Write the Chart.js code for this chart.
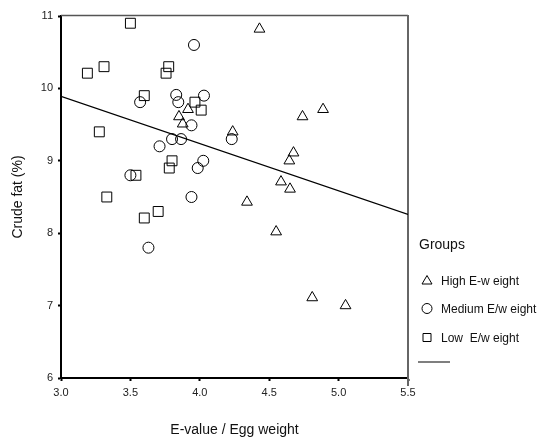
<!DOCTYPE html>
<html>
<head>
<meta charset="utf-8">
<script src="https://cdn.jsdelivr.net/npm/chart.js@4.4.1/dist/chart.umd.min.js"></script>
<style>
  html, body { margin: 0; padding: 0; background: #fff; }
  #wrap { width: 540px; height: 442px; }
</style>
</head>
<body>
<div id="wrap"><canvas id="chart" width="540" height="442"></canvas></div>
<script>
// points: [E-value / egg weight, crude fat %]
const highX = [4.43, 3.915, 3.85, 3.877, 4.237, 4.34, 4.888, 4.74, 4.675, 4.645, 4.585, 4.65, 4.55, 4.81, 5.05];
const highY = [10.82, 9.71, 9.61, 9.51, 9.40, 8.43, 9.71, 9.61, 9.11, 9.00, 8.71, 8.61, 8.02, 7.11, 7.00];

const mediumX = [3.958, 3.57, 3.83, 3.845, 4.03, 3.94, 3.80, 3.865, 3.71, 4.025, 3.985, 3.50, 3.94, 4.23, 3.63];
const mediumY = [10.60, 9.81, 9.91, 9.81, 9.90, 9.49, 9.30, 9.30, 9.20, 9.00, 8.90, 8.80, 8.50, 9.30, 7.80];

const lowX = [3.50, 3.19, 3.31, 3.776, 3.757, 3.60, 3.965, 4.01, 3.276, 3.80, 3.78, 3.54, 3.33, 3.60, 3.70];
const lowY = [10.90, 10.21, 10.30, 10.30, 10.21, 9.90, 9.81, 9.70, 9.40, 9.00, 8.90, 8.80, 8.50, 8.21, 8.30];

// fitted line ends
const fitX = [3.0, 5.5];
const fitY = [9.89, 8.26];

const xTicks = [3.0, 3.5, 4.0, 4.5, 5.0, 5.5];
const yTicks = [6, 7, 8, 9, 10, 11];

const groupTitle = "Groups";
const groupNames = ["High E-w eight", "Medium E/w eight", "Low  E/w eight"];
const groupShapes = ["triangle", "circle", "rect"];

const toPoints = (xs, ys) => xs.map((x, i) => ({ x: x, y: ys[i] }));

const fontFamily = "'Liberation Sans', Arial, sans-serif";

// frame on top and right + the legend at the side
const framePlugin = {
  id: "frame",
  beforeDatasetsDraw(chart) {
    const { ctx, chartArea } = chart;
    ctx.save();
    ctx.strokeStyle = "#555";
    ctx.lineWidth = 1.5;
    ctx.beginPath();
    ctx.moveTo(chartArea.left, chartArea.top - 0.5);
    ctx.lineTo(chartArea.right, chartArea.top - 0.5);
    ctx.stroke();
    ctx.strokeStyle = "#666";
    ctx.lineWidth = 2;
    ctx.beginPath();
    ctx.moveTo(chartArea.right, chartArea.top - 1);
    ctx.lineTo(chartArea.right, chartArea.bottom + 8);
    ctx.stroke();
    ctx.restore();
  },
  afterDraw(chart) {
    const ctx = chart.ctx;
    ctx.save();
    ctx.fillStyle = "#111";
    ctx.textBaseline = "middle";
    ctx.font = "14px " + fontFamily;
    ctx.fillText(groupTitle, 419, 245);

    const rows = [282, 310, 339];
    ctx.font = "12px " + fontFamily;
    ctx.strokeStyle = "#000";
    ctx.lineWidth = 1;
    groupNames.forEach((name, i) => {
      const cx = 427, cy = rows[i] - 1.5;
      ctx.beginPath();
      if (groupShapes[i] === "triangle") {
        ctx.moveTo(cx, cy - 5);
        ctx.lineTo(cx + 5, cy + 3.5);
        ctx.lineTo(cx - 5, cy + 3.5);
        ctx.closePath();
      } else if (groupShapes[i] === "circle") {
        ctx.arc(cx, cy, 5, 0, Math.PI * 2);
      } else {
        ctx.rect(cx - 4, cy - 4, 8, 8);
      }
      ctx.stroke();
      ctx.fillText(name, 441, rows[i]);
    });

    ctx.strokeStyle = "#555";
    ctx.lineWidth = 1.5;
    ctx.beginPath();
    ctx.moveTo(418, 362);
    ctx.lineTo(450, 362);
    ctx.stroke();
    ctx.restore();
  }
};

const tickFont = { family: fontFamily, size: 11 };

new Chart(document.getElementById("chart"), {
  type: "scatter",
  data: {
    datasets: [
      {
        label: groupNames[0],
        data: toPoints(highX, highY),
        pointStyle: "triangle",
        pointRadius: 6.2,
        pointHoverRadius: 6.2,
        backgroundColor: "rgba(0,0,0,0)",
        borderColor: "#000",
        borderWidth: 1
      },
      {
        label: groupNames[1],
        data: toPoints(mediumX, mediumY),
        pointStyle: "circle",
        pointRadius: 5.5,
        pointHoverRadius: 5.5,
        backgroundColor: "rgba(0,0,0,0)",
        borderColor: "#000",
        borderWidth: 1
      },
      {
        label: groupNames[2],
        data: toPoints(lowX, lowY),
        pointStyle: "rect",
        pointRadius: 7,
        pointHoverRadius: 7,
        backgroundColor: "rgba(0,0,0,0)",
        borderColor: "#000",
        borderWidth: 1
      },
      {
        label: "Fit",
        data: toPoints(fitX, fitY),
        showLine: true,
        pointRadius: 0,
        borderColor: "#000",
        borderWidth: 1.2,
        fill: false
      }
    ]
  },
  options: {
    responsive: false,
    animation: false,
    layout: { padding: { left: 0, top: 16, right: 132, bottom: 0 } },
    plugins: {
      legend: { display: false },
      tooltip: { enabled: false }
    },
    scales: {
      x: {
        type: "linear",
        min: 3.0,
        max: 5.5,
        afterFit: (scale) => { scale.height = 64; },
        afterBuildTicks: (scale) => { scale.ticks = xTicks.map((v) => ({ value: v })); },
        ticks: {
          color: "#222",
          font: tickFont,
          padding: 5,
          callback: (v) => Number(v).toFixed(1)
        },
        grid: { drawOnChartArea: false, drawTicks: true, tickLength: 3, tickWidth: 2, color: "#000" },
        border: { display: true, color: "#000", width: 2 },
        title: {
          display: true,
          text: "E-value / Egg weight",
          color: "#111",
          font: { family: fontFamily, size: 14 },
          padding: { top: 0, bottom: 3 }
        }
      },
      y: {
        type: "linear",
        min: 6,
        max: 11,
        afterFit: (scale) => { scale.width = 61; },
        afterBuildTicks: (scale) => { scale.ticks = yTicks.map((v) => ({ value: v })); },
        ticks: {
          color: "#222",
          font: tickFont,
          padding: 5,
          callback: (v) => String(v)
        },
        grid: { drawOnChartArea: false, drawTicks: true, tickLength: 3, tickWidth: 2, color: "#000" },
        border: { display: true, color: "#000", width: 2 },
        title: {
          display: true,
          text: "Crude fat (%)",
          color: "#111",
          font: { family: fontFamily, size: 14 },
          padding: { top: 10, bottom: 0 }
        }
      }
    }
  },
  plugins: [framePlugin]
});
</script>
</body>
</html>
